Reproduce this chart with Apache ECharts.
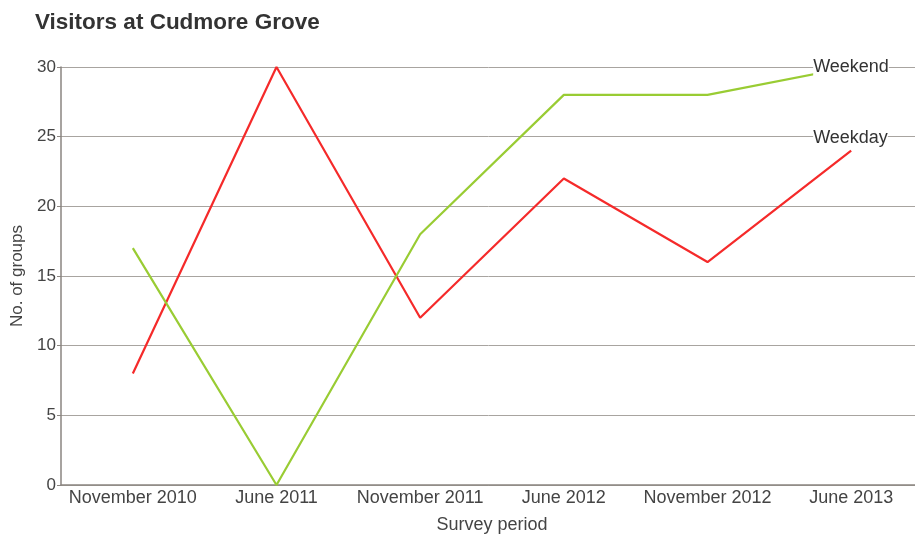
<!DOCTYPE html>
<html>
<head>
<meta charset="utf-8">
<script src="https://cdn.jsdelivr.net/npm/echarts@6/dist/echarts.min.js"></script>
<style>
html, body { margin: 0; padding: 0; background: #fff; }
#main { width: 915px; height: 539px; }
</style>
</head>
<body>
<div id="main"></div>
<script>
const periods = ["November 2010", "June 2011", "November 2011", "June 2012", "November 2012", "June 2013"];
const weekday = [8, 30, 12, 22, 16, 24];
const weekend = [17, 0, 18, 28, 28, 30];
const yTicks = { min: 0, max: 30, interval: 5 };

const myChart = echarts.init(document.getElementById("main"));
const textColor = "#444";
const font = "Liberation Sans, Arial, sans-serif";

function lineSeries(name, values, color, labelOffset) {
    return {
        name: name,
        type: "line",
        data: values,
        symbol: "none",
        lineStyle: { color: color, width: 2.2 },
        itemStyle: { color: color },
        endLabel: {
            show: true,
            formatter: "{a}",
            color: "#333",
            fontFamily: font,
            fontSize: 18,
            backgroundColor: "#fff",
            offset: labelOffset
        },
        animation: false
    };
}

let option = {
    backgroundColor: "#fff",
    title: {
        text: "Visitors at Cudmore Grove",
        left: 30,
        top: 6,
        textStyle: {
            fontFamily: font,
            fontSize: 22.5,
            fontWeight: "bold",
            color: "#333"
        }
    },
    grid: {
        left: 61,
        top: 67,
        width: 862,
        height: 418,
        containLabel: false,
        outerBoundsMode: "none"
    },
    xAxis: {
        type: "category",
        data: periods,
        boundaryGap: true,
        name: "Survey period",
        nameLocation: "middle",
        nameGap: 31,
        nameTextStyle: { fontFamily: font, fontSize: 18, color: textColor },
        axisLine: { show: true, lineStyle: { color: "#8a8580", width: 1.5 } },
        axisTick: { show: false },
        axisLabel: {
            fontFamily: font,
            fontSize: 18,
            color: textColor,
            margin: 4,
            interval: 0
        },
        splitLine: { show: false }
    },
    yAxis: {
        type: "value",
        min: yTicks.min,
        max: yTicks.max,
        interval: yTicks.interval,
        name: "No. of groups",
        nameLocation: "middle",
        nameGap: 30,
        nameTextStyle: { fontFamily: font, fontSize: 17, color: textColor },
        axisLine: { show: true, lineStyle: { color: "#8a8580", width: 1.5 } },
        axisTick: { show: true, length: 4, lineStyle: { color: "#8a8580" } },
        axisLabel: {
            fontFamily: font,
            fontSize: 17,
            color: textColor,
            margin: 5
        },
        splitLine: { show: true, lineStyle: { color: "#a8a4a0", width: 1 } }
    },
    series: [
        lineSeries("Weekday", weekday, "#f52a2a", [-46, -13]),
        lineSeries("Weekend", weekend, "#99cc33", [-46, 0])
    ]
};
myChart.setOption(option);
</script>
</body>
</html>
